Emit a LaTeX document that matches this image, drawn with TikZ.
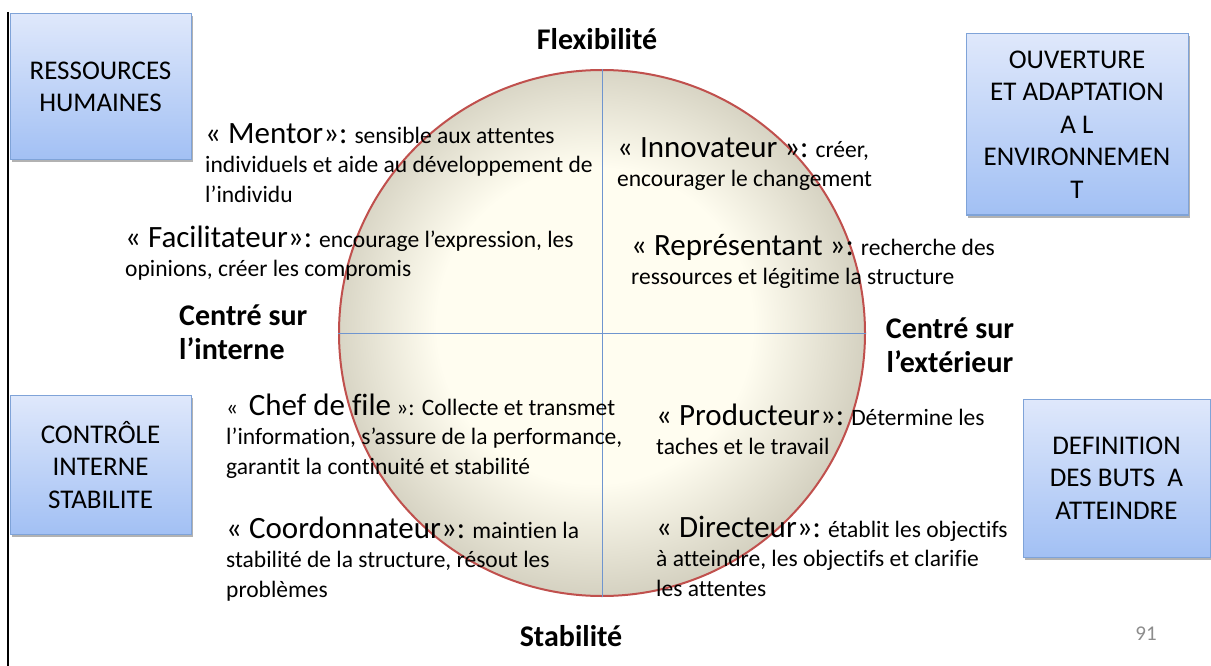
\documentclass[tikz,border=0pt]{standalone}
\usepackage{fontspec}
\setmainfont{Carlito}[Ligatures={NoCommon}]
\usetikzlibrary{shadows}

\definecolor{boxtop}{HTML}{DFE8FB}
\definecolor{boxbottom}{HTML}{A2C0F4}
\definecolor{boxline}{HTML}{7FA3D8}
\definecolor{ballin}{HTML}{FFFDF0}
\definecolor{ballout}{HTML}{A6A18D}
\definecolor{ballrim}{HTML}{C0504D}
\definecolor{axisblue}{HTML}{6F95CF}
\definecolor{pagenum}{HTML}{8C8C8C}

\pgfdeclareradialshading{ballshade}{\pgfpoint{-1bp}{1bp}}{color(0bp)=(ballin); color(15bp)=(ballin); color(26bp)=(ballin!50!ballout); color(35bp)=(ballout); color(50bp)=(ballout)}

\newcommand{\rolename}[1]{{\fontsize{31}{29.5}\selectfont\rule{0pt}{24pt}#1}}

\tikzset{
	quadbox/.style={draw=boxline, line width=1pt, top color=boxtop, bottom color=boxbottom, align=center, inner sep=0,
		font=\fontsize{27}{32.5}\selectfont,
		drop shadow={shadow xshift=1.5pt, shadow yshift=-2.5pt, fill=black, opacity=0.3}},
	role/.style={anchor=north west, align=left, inner sep=0, font=\fontsize{23.5}{29.5}\selectfont},
	polelabel/.style={inner sep=0, font=\bfseries\fontsize{30}{34}\selectfont},
	axisline/.style={draw=axisblue, line width=1pt},
}

\begin{document}
\begin{tikzpicture}[x=1pt, y=-1pt]
	\useasboundingbox (0,0) rectangle (1211,666);
	\draw[line width=1.5pt] (8,12) -- (8,666);

	% le cercle et ses axes
	\node (ball) at (602,333) [circle, minimum size=526pt, inner sep=0, shade, shading=ballshade, draw=ballrim, line width=2pt] {};
	\draw[axisline] (ball.west) -- (ball.east);
	\draw[axisline] (ball.north) -- (ball.south);

	% les quatre cadres
	\node (rh) at (100.5,87) [quadbox, minimum width=181pt, minimum height=146pt] {RESSOURCES\\HUMAINES};
	\node (ouverture) at (1077,124.5) [quadbox, minimum width=222pt, minimum height=181pt] {OUVERTURE\\ET ADAPTATION\\A L\\ENVIRONNEMEN\\T};
	\node (controle) at (100.5,465) [quadbox, minimum width=181pt, minimum height=139pt] {CONTRÔLE\\INTERNE\\STABILITE};
	\node (buts) at (1116.5,478) [quadbox, minimum width=187pt, minimum height=158pt] {DEFINITION\\DES BUTS~~A\\ATTEINDRE};

	% les pôles
	\node (flex) at (597,50) [polelabel, anchor=base] {Flexibilité};
	\node (stab) at (571,646) [polelabel, anchor=base] {Stabilité};
	\node (interne) at (179,301) [polelabel, anchor=north west, align=left] {\rule{0pt}{24pt}Centré sur\\l’interne};
	\node (externe) at (950,314) [polelabel, anchor=north, align=center] {\rule{0pt}{24pt}Centré sur\\l’extérieur};

	% les huit rôles
	\node (mentor) at (205,119) [role] {\rolename{« Mentor»:} sensible aux attentes\\individuels et aide au développement de\\l’individu};
	\node (facilitateur) at (125,223) [role] {\rolename{« Facilitateur»:} encourage l’expression, les\\opinions, créer les compromis};
	\node (innovateur) at (617,133) [role] {\rolename{« Innovateur »:} créer,\\encourager le changement};
	\node (representant) at (631,231) [role] {\rolename{« Représentant »:} recherche des\\ressources et légitime la structure};
	\node (chef) at (226,391) [role] {«~~\rolename{Chef de file} »: Collecte et transmet\\l’information, s’assure de la performance,\\garantit la continuité et stabilité};
	\node (coordonnateur) at (226,514) [role] {\rolename{« Coordonnateur»:} maintien la\\stabilité de la structure, résout les\\problèmes};
	\node (producteur) at (656,401) [role] {\rolename{« Producteur»:} Détermine les\\taches et le travail};
	\node (directeur) at (656,513) [role] {\rolename{« Directeur»:} établit les objectifs\\à atteindre, les objectifs et clarifie\\les attentes};

	\node (page) at (1146,634) [text=pagenum, font=\fontsize{21}{24}\selectfont] {91};
\end{tikzpicture}
\end{document}
